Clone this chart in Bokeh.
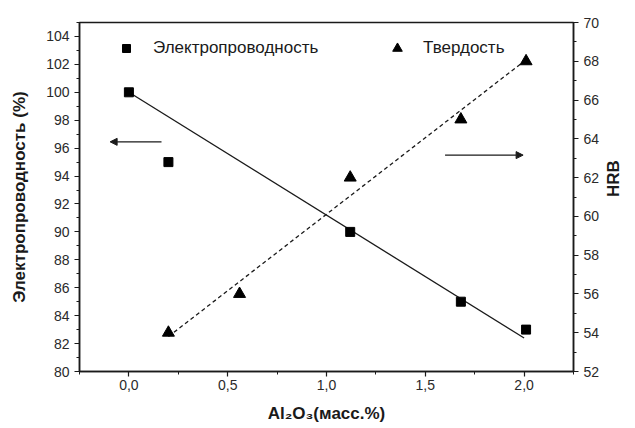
import math
from bokeh.plotting import figure
from bokeh.models import (Range1d, LinearAxis, SingleIntervalTicker, FixedTicker,
                          Legend, LegendItem, Arrow, NormalHead, ColumnDataSource)
from bokeh.embed import file_html
from bokeh.resources import INLINE

# ---- data ----
al2o3_cond = [0.0, 0.2, 1.12, 1.68, 2.01]
conductivity = [100.0, 95.0, 90.0, 85.0, 83.0]

al2o3_hrb = [0.2, 0.56, 1.12, 1.68, 2.01]
hardness = [54.0, 56.0, 62.0, 65.0, 68.0]

fit_cond_x = [0.0, 2.0]
fit_cond_y = [100.0, 82.4]
fit_hrb_x = [0.2, 2.0]
fit_hrb_y = [53.8, 68.0]

x_tick_values = [0.0, 0.5, 1.0, 1.5, 2.0]
x_tick_labels = ["0,0", "0,5", "1,0", "1,5", "2,0"]
x_minor_values = [-0.25, 0.25, 0.75, 1.25, 1.75, 2.25]

series_names = ["Электропроводность", "Твердость"]
y_left_title = "Электропроводность (%)"
y_right_title = "HRB"
x_title = "Al₂O₃(масс.%)"

FONT = "Liberation Sans"
INK = "#1a1a1a"

p = figure(width=635, height=428,
           x_range=Range1d(-0.25, 2.25), y_range=Range1d(80, 105),
           output_backend="svg", toolbar_location=None,
           min_border_left=79, min_border_right=59,
           min_border_top=22, min_border_bottom=57,
           background_fill_color="white", border_fill_color="white")
p.extra_y_ranges = {"hrb": Range1d(52, 70)}

p.xgrid.visible = False
p.ygrid.visible = False
p.outline_line_color = INK
p.outline_line_width = 1.5
p.outline_line_alpha = 1.0

right_axis = LinearAxis(y_range_name="hrb", axis_label=y_right_title)
try:
    right_axis.axis_label_orientation = math.pi / 2
except Exception:
    pass
p.add_layout(right_axis, "right")

p.xaxis.ticker = FixedTicker(ticks=x_tick_values, minor_ticks=x_minor_values)
p.xaxis.major_label_overrides = {v: s for v, s in zip(x_tick_values, x_tick_labels)}
p.xaxis.axis_label = x_title
p.yaxis[0].axis_label = y_left_title
p.yaxis[0].ticker = SingleIntervalTicker(interval=2, num_minor_ticks=2)
right_axis.ticker = SingleIntervalTicker(interval=2, num_minor_ticks=2)

for ax in [p.xaxis[0], p.yaxis[0], right_axis]:
    ax.axis_line_color = INK
    ax.axis_line_width = 1.5
    ax.major_tick_in = 0
    ax.major_tick_out = 5
    ax.minor_tick_in = 0
    ax.minor_tick_out = 3
    ax.major_tick_line_color = INK
    ax.minor_tick_line_color = INK
    ax.major_tick_line_width = 1.2
    ax.minor_tick_line_width = 1.0
    ax.major_label_text_font = FONT
    ax.major_label_text_font_size = "14px"
    ax.major_label_text_color = "#2a2a2a"
    ax.axis_label_text_font = FONT
    ax.axis_label_text_font_style = "bold"
    ax.axis_label_text_font_size = "17px"
    ax.axis_label_text_color = INK
    ax.major_label_standoff = 5

p.yaxis[0].axis_label_standoff = 14
p.xaxis[0].axis_label_standoff = 11
p.xaxis[0].major_label_standoff = 3
right_axis.axis_label_standoff = 11

# fit lines
p.line(fit_cond_x, fit_cond_y, line_color=INK, line_width=1.3)
p.line(fit_hrb_x, fit_hrb_y, line_color=INK, line_width=1.3, line_dash="4 3",
       y_range_name="hrb")

# data markers
src_c = ColumnDataSource(dict(x=al2o3_cond, y=conductivity))
src_h = ColumnDataSource(dict(x=al2o3_hrb, y=hardness))
r_sq = p.scatter("x", "y", source=src_c, marker="square", size=9,
                 fill_color="black", line_color="black")
r_tr = p.scatter("x", "y", source=src_h, marker="triangle", size=12,
                 fill_color="black", line_color="black", y_range_name="hrb")

# arrows pointing to the relevant axes
p.add_layout(Arrow(end=NormalHead(size=7, fill_color=INK, line_color=INK, line_width=1),
                   x_start=0.165, y_start=96.45, x_end=-0.095, y_end=96.45,
                   line_color=INK, line_width=1.2))
p.add_layout(Arrow(end=NormalHead(size=7, fill_color=INK, line_color=INK, line_width=1),
                   x_start=1.6, y_start=63.16, x_end=1.995, y_end=63.16,
                   line_color=INK, line_width=1.2, y_range_name="hrb"))

# legends
def make_legend(name, renderer, loc, glyph, standoff):
    lg = Legend(items=[LegendItem(label=name, renderers=[renderer])],
                location=loc, orientation="horizontal",
                glyph_width=glyph, glyph_height=glyph,
                label_height=glyph, label_standoff=standoff,
                padding=0, margin=0, spacing=0,
                border_line_alpha=0, background_fill_alpha=0,
                label_text_font=FONT, label_text_font_size="17px",
                label_text_color=INK)
    return lg

p.add_layout(make_legend(series_names[0], r_sq, (37, 313), 20, 17))
p.add_layout(make_legend(series_names[1], r_tr, (306, 311), 24, 14))

open("out.html", "w").write(file_html(p, INLINE))
